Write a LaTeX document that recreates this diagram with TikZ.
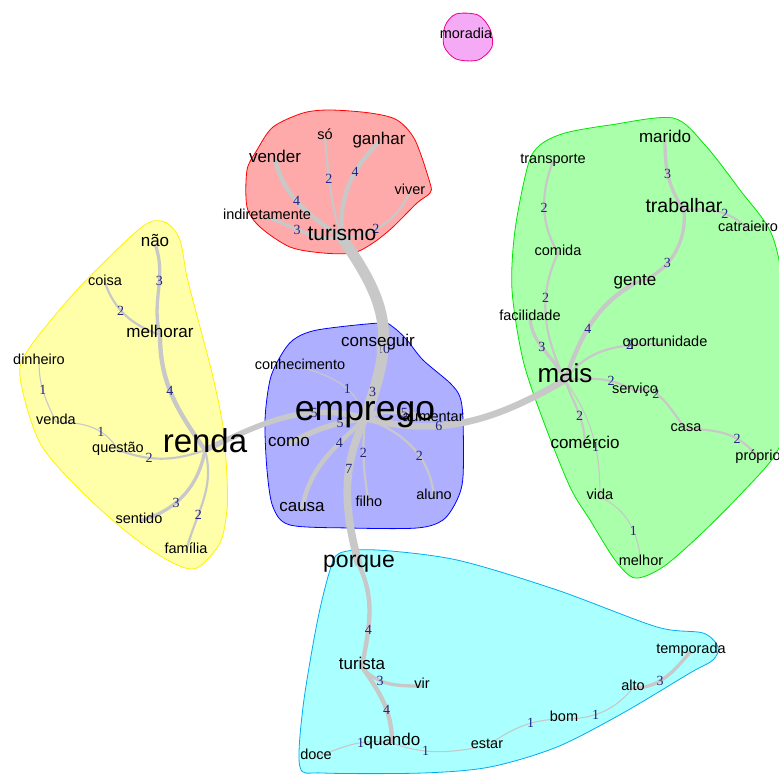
\documentclass[tikz,border=0pt]{standalone}
\usepackage{fontspec}
\setmainfont{Liberation Sans}
\newfontfamily\numfont{Liberation Serif}
\usetikzlibrary{backgrounds}
\definecolor{edgegray}{RGB}{200,200,200}
\definecolor{numblue}{RGB}{35,35,130}
\definecolor{redfill}{RGB}{255,170,170}
\definecolor{yellowfill}{RGB}{255,255,170}
\definecolor{bluefill}{RGB}{175,175,255}
\definecolor{greenfill}{RGB}{170,255,170}
\definecolor{greenline}{RGB}{0,230,0}
\definecolor{cyanfill}{RGB}{170,255,255}
\definecolor{pinkfill}{RGB}{245,170,245}

\begin{document}
\begin{tikzpicture}[x=1pt,y=1pt,
    bigword/.style={inner sep=0pt, anchor=mid, font=\fontsize{#1}{#1}\selectfont},
    word/.style={bigword=14.5},
    midword/.style={bigword=17},
    lnk/.style={draw=edgegray, line width=#1*1.1pt},
    num/.style={inner sep=0pt, text=numblue, font=\numfont\fontsize{14}{15}\selectfont},
    blob/.style 2 args={draw=#1, fill=#2, line width=0.8pt}]
    \useasboundingbox (0,0) rectangle (779,-776);

    % words
    \node[word] (moradia) at (466,-36) {moradia};
    \node[bigword=21] (turismo) at (342,-238) {turismo};
    \node[midword] (vender) at (275,-160) {vender};
    \node[word] (so) at (325,-137) {só};
    \node[midword] (ganhar) at (379,-142) {ganhar};
    \node[word] (viver) at (410,-192) {viver};
    \node[word] (indiretamente) at (267,-217) {indiretamente};
    \node[bigword=33] (renda) at (205,-450) {renda};
    \node[midword] (nao) at (155,-244) {não};
    \node[word] (coisa) at (105,-283) {coisa};
    \node[midword] (melhorar) at (160,-335) {melhorar};
    \node[word] (dinheiro) at (39,-362) {dinheiro};
    \node[word] (venda) at (56,-422) {venda};
    \node[word] (questao) at (118,-450) {questão};
    \node[word] (sentido) at (139,-521) {sentido};
    \node[word] (familia) at (186,-551) {família};
    \node[bigword=35.5] (emprego) at (365,-418) {emprego};
    \node[midword] (conseguir) at (378,-344) {conseguir};
    \node[word] (conhecimento) at (300,-367) {conhecimento};
    \node[midword] (como) at (289,-444) {como};
    \node[midword] (causa) at (302,-509) {causa};
    \node[word] (filho) at (369,-504) {filho};
    \node[word] (aluno) at (434,-497) {aluno};
    \node[word] (aumentar) at (433,-419) {aumentar};
    \node[bigword=26] (mais) at (565,-380) {mais};
    \node[word] (transporte) at (553,-161) {transporte};
    \node[midword] (marido) at (665,-140) {marido};
    \node[bigword=19.5] (trabalhar) at (684,-210) {trabalhar};
    \node[word] (catraieiro) at (748,-229) {catraieiro};
    \node[word] (comida) at (558,-253) {comida};
    \node[midword] (gente) at (635,-283) {gente};
    \node[word] (facilidade) at (530,-318) {facilidade};
    \node[word] (oportunidade) at (665,-344) {oportunidade};
    \node[word] (servico) at (635,-391) {serviço};
    \node[word] (casa) at (686,-429) {casa};
    \node[word] (proprio) at (758,-458) {próprio};
    \node[midword] (comercio) at (585,-446) {comércio};
    \node[word] (vida) at (600,-497) {vida};
    \node[word] (melhor) at (641,-563) {melhor};
    \node[bigword=23] (porque) at (359,-565) {porque};
    \node[midword] (turista) at (362,-667) {turista};
    \node[word] (vir) at (422,-686) {vir};
    \node[midword] (quando) at (392,-743) {quando};
    \node[word] (doce) at (316,-757) {doce};
    \node[word] (estar) at (487,-746) {estar};
    \node[word] (bom) at (564,-719) {bom};
    \node[word] (alto) at (633,-688) {alto};
    \node[word] (temporada) at (691,-651) {temporada};

    \begin{scope}[on background layer]
    % clusters
    \draw[blob={magenta}{pinkfill}] plot[smooth cycle] coordinates {(456,-14) (478,-15) (490,-29) (492,-47) (478,-60) (456,-59) (444,-46) (445,-26)};
    \draw[blob={red}{redfill}] plot[smooth cycle] coordinates {(247,-170) (257,-150) (273,-127) (303,-113) (330,-110) (370,-113) (397,-120) (415,-140) (430,-183) (430,-193) (417,-203) (393,-227) (373,-243) (353,-253) (323,-253) (290,-247) (260,-227) (247,-207)};
    \draw[blob={yellow}{yellowfill}] plot[smooth cycle] coordinates {(150,-222) (167,-223) (180,-240) (187,-277) (200,-327) (213,-377) (223,-427) (227,-477) (227,-510) (220,-543) (197,-568) (173,-563) (133,-537) (83,-493) (40,-443) (20,-377) (30,-347) (77,-290) (127,-240)};
    \draw[blob={blue}{bluefill}] plot[smooth cycle] coordinates {(293,-340) (317,-330) (380,-323) (393,-327) (407,-340) (423,-360) (450,-383) (460,-397) (463,-420) (463,-477) (457,-500) (443,-520) (417,-528) (350,-528) (290,-525) (273,-507) (267,-470) (265,-420) (270,-380) (280,-357)};
    \draw[blob={greenline}{greenfill}] plot[smooth cycle] coordinates {(540,-145) (565,-133) (610,-125) (673,-118) (705,-145) (740,-190) (772,-235) (784,-300) (784,-420) (775,-455) (740,-495) (700,-535) (663,-567) (635,-578) (615,-560) (590,-520) (570,-487) (543,-420) (523,-360) (512,-290) (515,-230) (528,-165)};
    \draw[blob={cyan}{cyanfill}] plot[smooth cycle] coordinates {(340,-553) (377,-550) (457,-560) (557,-590) (657,-627) (703,-633) (718,-647) (713,-660) (690,-673) (623,-713) (557,-747) (490,-767) (423,-773) (323,-773) (300,-767) (303,-707) (317,-623) (330,-570)};

    % links
    \draw[lnk=10] (turismo.mid) to[out=-55,in=70,looseness=1.2] node[num,pos=0.65]{10} (emprego.mid);
    \draw[lnk=7] (emprego.mid) to[out=-115,in=105] node[num,pos=0.35]{7} (porque.mid);
    \draw[lnk=6] (emprego.mid) to[out=-15,in=-150] node[num,pos=0.35]{6} (mais.mid);

    \draw[lnk=3] (turismo.mid) to[out=185,in=-20] node[num,pos=0.6]{3} (indiretamente.mid);
    \draw[lnk=4] (turismo.mid) to[out=145,in=-75] node[num,pos=0.55]{4} (vender.mid);
    \draw[lnk=2] (turismo.mid) to[out=108,in=-85] node[num,pos=0.6]{2} (so.mid);
    \draw[lnk=4] (turismo.mid) to[out=95,in=-135] node[num,pos=0.65]{4} (ganhar.mid);
    \draw[lnk=2] (turismo.mid) to[out=5,in=-115] node[num,pos=0.4]{2} (viver.mid);

    \draw[lnk=4] (renda.mid) to[out=125,in=-90] node[num,pos=0.55]{4} (melhorar.mid);
    \draw[lnk=3] (melhorar.mid) to[out=105,in=-70] node[num,pos=0.6]{3} (nao.mid);
    \draw[lnk=2] (melhorar.mid) to[out=160,in=-70] node[num,pos=0.6]{2} (coisa.mid);
    \draw[lnk=2] (renda.mid) to[out=200,in=-20] node[num,pos=0.65]{2} (questao.mid);
    \draw[lnk=1] (questao.mid) to[out=120,in=0] node[num,pos=0.35]{1} (venda.mid);
    \draw[lnk=1] (venda.mid) to[out=115,in=-90] node[num,pos=0.55]{1} (dinheiro.mid);
    \draw[lnk=3] (renda.mid) to[out=-100,in=15] node[num,pos=0.6]{3} (sentido.mid);
    \draw[lnk=2] (renda.mid) to[out=-75,in=75] node[num,pos=0.65]{2} (familia.mid);

    \draw[lnk=5] (emprego.mid) to[out=165,in=25] node[num,pos=0.3]{5} (renda.mid);
    \draw[lnk=5] (emprego.mid) to[out=190,in=30] node[num,pos=0.3]{5} (como.mid);
    \draw[lnk=1] (emprego.mid) to[out=105,in=-15] node[num,pos=0.4]{1} (conhecimento.mid);
    \draw[lnk=3] (emprego.mid) to[out=75,in=-85] node[num,pos=0.35]{3} (conseguir.mid);
    \draw[lnk=4] (emprego.mid) to[out=-135,in=80] node[num,pos=0.3]{4} (causa.mid);
    \draw[lnk=2] (emprego.mid) to[out=-95,in=100] node[num,pos=0.4]{2} (filho.mid);
    \draw[lnk=2] (emprego.mid) to[out=-20,in=95] node[num,pos=0.6]{2} (aluno.mid);
    \draw[lnk=5] (emprego.mid) to[out=30,in=170] node[num,pos=0.6]{5} (aumentar.mid);

    \draw[lnk=3] (mais.mid) to[out=115,in=-85] node[num,pos=0.55]{3} (facilidade.mid);
    \draw[lnk=2] (mais.mid) to[out=115,in=-115] node[num,pos=0.65]{2} (comida.mid);
    \draw[lnk=2] (comida.mid) to[out=120,in=-110] node[num,pos=0.5]{2} (transporte.mid);
    \draw[lnk=4] (mais.mid) to[out=70,in=-150] node[num,pos=0.45]{4} (gente.mid);
    \draw[lnk=3] (gente.mid) to[out=15,in=-85] node[num,pos=0.4]{3} (trabalhar.mid);
    \draw[lnk=3] (trabalhar.mid) to[out=125,in=-90] node[num,pos=0.55]{3} (marido.mid);
    \draw[lnk=2] (trabalhar.mid) to[out=5,in=135] node[num,pos=0.6]{2} (catraieiro.mid);
    \draw[lnk=2] (mais.mid) to[out=55,in=180] node[num,pos=0.7]{2} (oportunidade.mid);
    \draw[lnk=2] (mais.mid) to[out=5,in=150] node[num,pos=0.65]{2} (servico.mid);
    \draw[lnk=2] (servico.mid) to[out=20,in=130] node[num,pos=0.35]{2} (casa.mid);
    \draw[lnk=2] (casa.mid) to[out=0,in=125] node[num,pos=0.65]{2} (proprio.mid);
    \draw[lnk=2] (mais.mid) to[out=-70,in=90] node[num,pos=0.55]{2} (comercio.mid);
    \draw[lnk=1] (mais.mid) to[out=-55,in=90] node[num,pos=0.6]{1} (vida.mid);
    \draw[lnk=1] (vida.mid) to[out=-25,in=95] node[num,pos=0.6]{1} (melhor.mid);

    \draw[lnk=4] (porque.mid) to[out=-65,in=80] node[num,pos=0.65]{4} (turista.mid);
    \draw[lnk=3] (turista.mid) to[out=-50,in=180] node[num,pos=0.35]{3} (vir.mid);
    \draw[lnk=4] (turista.mid) to[out=-55,in=90] node[num,pos=0.6]{4} (quando.mid);
    \draw[lnk=1] (quando.mid) to[out=170,in=20] node[num,pos=0.4]{1} (doce.mid);
    \draw[lnk=1] (quando.mid) to[out=-20,in=190] node[num,pos=0.35]{1} (estar.mid);
    \draw[lnk=1] (estar.mid) to[out=35,in=180] node[num,pos=0.6]{1} (bom.mid);
    \draw[lnk=1] (bom.mid) to[out=0,in=-130] node[num,pos=0.4]{1} (alto.mid);
    \draw[lnk=3] (alto.mid) to[out=0,in=-130] node[num,pos=0.4]{3} (temporada.mid);
    \end{scope}
\end{tikzpicture}
\end{document}
